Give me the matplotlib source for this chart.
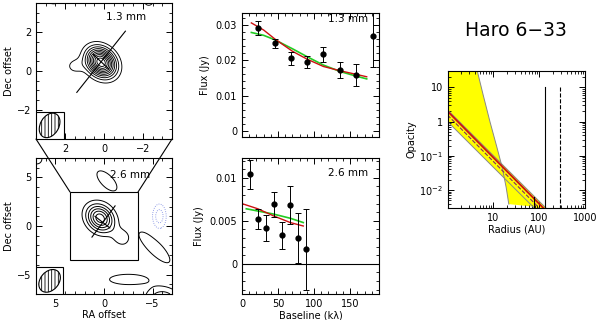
import matplotlib
matplotlib.use('Agg')
import matplotlib.pyplot as plt
import numpy as np
from matplotlib.patches import Ellipse, Rectangle, ConnectionPatch
from matplotlib.ticker import MultipleLocator

plt.rcParams['font.family'] = ['DejaVu Sans']
plt.rcParams['font.size'] = 7
plt.rcParams['hatch.linewidth'] = 0.6

# --- maps: source components (x, y, amp, sig_major, sig_minor, pa in deg) ---
map13_comps = [(0.15, 0.45, 1.0, 0.55, 0.44, 45),
               (1.5, 0.25, 0.13, 0.35, 0.3, 0),
               (2.6, 3.75, 0.16, 0.4, 0.3, 0),
               (-2.3, 3.6, 0.13, 0.3, 0.3, 0)]
map13_levels = [0.1, 0.19, 0.28, 0.37, 0.46, 0.55, 0.64, 0.73, 0.82, 0.91]

map26_comps = [(0.4, 0.8, 1.0, 1.05, 0.85, 45),
               (-1.8, -1.2, 0.25, 0.7, 0.6, 45),
               (-0.3, 4.65, 0.22, 1.5, 0.7, 45),
               (-5.2, -2.2, 0.28, 1.9, 0.6, 45),
               (-6.0, -7.5, 0.45, 1.2, 0.8, 0),
               (-2.5, -5.5, 0.22, 2.2, 0.6, 0),
               (6.9, 6.9, 0.25, 0.5, 0.5, 0),
               (-5.7, 1.0, -0.4, 0.9, 0.5, 90)]
map26_levels = [0.15, 0.3, 0.45, 0.6, 0.75, 0.9]
map26_neg = [-0.3, -0.15]

# --- visibility amplitudes ---
uv13 = [22.7, 45.8, 68, 90.7, 113, 136, 158, 181.5]
amp13 = [0.0291, 0.0247, 0.0205, 0.0195, 0.0217, 0.0172, 0.0158, 0.0268]
err13 = [0.002, 0.0014, 0.0018, 0.0018, 0.0021, 0.0022, 0.003, 0.0087]
red13_x = [13, 30, 46, 70, 90, 113, 136, 158, 173]
red13_y = [0.0305, 0.0285, 0.0259, 0.0225, 0.0203, 0.0182, 0.0170, 0.0160, 0.0153]
grn13_x = [13, 30, 46, 70, 90, 113, 136, 158, 173]
grn13_y = [0.0278, 0.0270, 0.0257, 0.0232, 0.0210, 0.0186, 0.0168, 0.0155, 0.0147]

uv26 = [11, 21.8, 32.9, 44.4, 56, 66.7, 77.3, 89]
amp26 = [0.0104, 0.0052, 0.0042, 0.0069, 0.0033, 0.0068, 0.0030, 0.0017]
err26 = [0.0017, 0.0012, 0.0015, 0.0015, 0.0016, 0.0022, 0.0029, 0.0047]
red26_x = [0, 22, 43, 67, 85]
red26_y = [0.0070, 0.0064, 0.0056, 0.0048, 0.0044]
grn26_x = [6, 43, 67, 85]
grn26_y = [0.0064, 0.0058, 0.0053, 0.0048]

# --- opacity profiles ---
steep_r = [4.45, 5.96, 8.4, 11.9, 15.5, 19, 21.7]
steep_tau = [30, 6.1, 1.0, 0.18, 0.047, 0.012, 0.0039]
upper_r, upper_tau = [1, 140], [2.2, 0.003]
best_r, best_tau = [1, 123], [2.0, 0.003]
dash_r, dash_tau = [1, 100], [1.55, 0.003]
lower_r, lower_tau = [1, 78], [1.0, 0.003]
r_out_solid, r_out_dash, r_short = 135, 290, 76


def field(X, Y, comps):
    Z = np.zeros_like(X)
    for x0, y0, a, sa, sb, pa in comps:
        t = np.radians(pa)
        u = (X - x0) * np.cos(t) + (Y - y0) * np.sin(t)
        v = -(X - x0) * np.sin(t) + (Y - y0) * np.cos(t)
        Z += a * np.exp(-0.5 * (u**2 / sa**2 + v**2 / sb**2))
    return Z


def style(ax):
    ax.tick_params(which='both', direction='in', top=True, right=True, labelsize=7)
    ax.tick_params(which='major', length=4, width=0.7)
    ax.tick_params(which='minor', length=2, width=0.6)
    for s in ax.spines.values():
        s.set_linewidth(0.8)


fig = plt.figure(figsize=(6, 3.2), dpi=100)

# top-left map
ax1 = fig.add_axes([0.06, 0.5656, 0.2267, 0.425])
g = np.linspace(-3.5, 3.5, 300)
X, Y = np.meshgrid(g, g)
ax1.contour(X, Y, field(X, Y, map13_comps), levels=map13_levels, colors='k', linewidths=0.65)
ax1.plot([1.4, -1.1], [-1.1, 2.05], color='k', lw=0.8)
ax1.plot([0.55, -0.25], [0.85, 0.1], color='k', lw=0.8)
ax1.add_patch(Rectangle((2.05, -3.5), 1.45, 1.4, fc='white', ec='k', lw=0.8, zorder=3))
ax1.add_patch(Ellipse((2.8, -2.8), 1.35, 0.95, angle=120, fc='white', ec='k',
                      hatch='|||||', lw=0.8, zorder=4))
ax1.set_xlim(3.5, -3.5)
ax1.set_ylim(-3.5, 3.5)
ax1.set_xticks([2, 0, -2])
ax1.set_yticks([-2, 0, 2])
ax1.xaxis.set_minor_locator(MultipleLocator(0.5))
ax1.yaxis.set_minor_locator(MultipleLocator(0.5))
ax1.set_ylabel('Dec offset', labelpad=2)
ax1.text(0.81, 0.9, '1.3 mm', transform=ax1.transAxes, ha='right', va='center', fontsize=7.5)
style(ax1)

# bottom-left map
ax2 = fig.add_axes([0.06, 0.08125, 0.2267, 0.425])
g = np.linspace(-7, 7, 300)
X, Y = np.meshgrid(g, g)
Z = field(X, Y, map26_comps)
ax2.contour(X, Y, Z, levels=map26_levels, colors='k', linewidths=0.7)
ax2.contour(X, Y, Z, levels=map26_neg, colors='#7080e0', linewidths=0.6, linestyles=':')
ax2.plot([1.24, -1.14], [-1.14, 2.07], color='k', lw=0.8)
ax2.plot([0.93, -0.6], [1.0, -0.2], color='k', lw=0.8)
ax2.add_patch(Rectangle((-3.5, -3.5), 7, 7, fill=False, ec='k', lw=0.8))
ax2.add_patch(Rectangle((4.25, -7), 2.75, 2.75, fc='white', ec='k', lw=0.8, zorder=3))
ax2.add_patch(Ellipse((5.6, -5.65), 2.6, 1.9, angle=130, fc='white', ec='k',
                      hatch='|||||', lw=0.8, zorder=4))
ax2.set_xlim(7, -7)
ax2.set_ylim(-7, 7)
ax2.set_xticks([5, 0, -5])
ax2.set_yticks([-5, 0, 5])
ax2.xaxis.set_minor_locator(MultipleLocator(1))
ax2.yaxis.set_minor_locator(MultipleLocator(1))
ax2.set_ylabel('Dec offset', labelpad=2)
ax2.set_xlabel('RA offset', labelpad=1)
ax2.text(0.84, 0.875, '2.6 mm', transform=ax2.transAxes, ha='right', va='center', fontsize=7.5)
style(ax2)

for xa in (3.5, -3.5):
    fig.add_artist(ConnectionPatch(xyA=(xa, -3.5), coordsA=ax1.transData,
                                   xyB=(xa, 3.5), coordsB=ax2.transData, color='k', lw=0.8))

# top-middle visibilities
ax3 = fig.add_axes([0.4033, 0.5719, 0.2283, 0.3875])
ax3.errorbar(uv13, amp13, yerr=err13, fmt='o', color='k', ms=3.5, capsize=2.5,
             elinewidth=0.7, capthick=0.7, zorder=3)
ax3.plot(grn13_x, grn13_y, color='#22cc22', lw=1.2)
ax3.plot(red13_x, red13_y, color='#cc1111', lw=1.0)
ax3.set_xlim(0, 190)
ax3.set_ylim(-0.0017, 0.0333)
ax3.set_xticks([0, 50, 100, 150])
ax3.set_xticklabels([])
ax3.set_yticks([0, 0.01, 0.02, 0.03])
ax3.set_yticklabels(['0', '0.01', '0.02', '0.03'])
ax3.xaxis.set_minor_locator(MultipleLocator(10))
ax3.yaxis.set_minor_locator(MultipleLocator(0.002))
ax3.set_ylabel('Flux (Jy)', labelpad=4)
ax3.text(0.92, 0.955, '1.3 mm', transform=ax3.transAxes, ha='right', va='center', fontsize=7.5)
style(ax3)

# bottom-middle visibilities
ax4 = fig.add_axes([0.4033, 0.08125, 0.2283, 0.425])
ax4.axhline(0, color='k', lw=0.8)
ax4.errorbar(uv26, amp26, yerr=err26, fmt='o', color='k', ms=3.5, capsize=2.5,
             elinewidth=0.7, capthick=0.7, zorder=3)
ax4.plot(grn26_x, grn26_y, color='#22cc22', lw=1.2)
ax4.plot(red26_x, red26_y, color='#cc1111', lw=1.0)
ax4.set_xlim(0, 190)
ax4.set_ylim(-0.0035, 0.0123)
ax4.set_xticks([0, 50, 100, 150])
ax4.set_yticks([0, 0.005, 0.01])
ax4.set_yticklabels(['0', '0.005', '0.01'])
ax4.xaxis.set_minor_locator(MultipleLocator(10))
ax4.yaxis.set_minor_locator(MultipleLocator(0.001))
ax4.set_ylabel('Flux (Jy)', labelpad=4)
ax4.set_xlabel('Baseline (k\u03bb)', labelpad=1)
ax4.text(0.92, 0.89, '2.6 mm', transform=ax4.transAxes, ha='right', va='center', fontsize=7.5)
style(ax4)

# right: opacity profile
ax5 = fig.add_axes([0.746, 0.35, 0.229, 0.428])
ax5.set_xscale('log')
ax5.set_yscale('log')
# yellow envelope: left wedge above the crossing, right wedge below it
left_x = [1] + steep_r[:5] + [lower_r[0]]
left_y = [30] + steep_tau[:5] + [lower_tau[0]]
ax5.fill(left_x, left_y, color='#ffff00', lw=0)
right_x = steep_r[4:] + [upper_r[1], steep_r[4]]
right_y = steep_tau[4:] + [upper_tau[1], steep_tau[4]]
ax5.fill(right_x, right_y, color='#ffff00', lw=0)
ax5.fill(upper_r + lower_r[::-1], upper_tau + lower_tau[::-1], color='#ffff00', lw=0)
ax5.plot(steep_r, steep_tau, color='#888888', lw=0.7)
ax5.plot(upper_r, upper_tau, color='#888888', lw=0.7)
ax5.plot(lower_r, lower_tau, color='#888888', lw=0.7)
ax5.plot(dash_r, dash_tau, color='#803060', lw=0.8, ls='--')
ax5.plot(best_r, best_tau, color='#cc1111', lw=1.3)
ax5.plot([r_out_solid, r_out_solid], [10, 0.003], color='k', lw=0.8)
ax5.plot([r_out_dash, r_out_dash], [10, 0.003], color='k', lw=0.8, ls='--')
ax5.plot([r_short, r_short], [0.0063, 0.003], color='k', lw=0.8)
ax5.set_xlim(1, 1000)
ax5.set_ylim(0.003, 30)
ax5.set_xticks([10, 100, 1000])
ax5.set_xticklabels(['10', '100', '1000'])
ax5.set_yticks([0.01, 0.1, 1, 10])
ax5.set_yticklabels(['$10^{-2}$', '$10^{-1}$', '1', '10'])
ax5.set_ylabel('Opacity', labelpad=2)
ax5.set_xlabel('Radius (AU)', labelpad=1)
style(ax5)

fig.text(0.86, 0.905, 'Haro 6\u221233', ha='center', va='center', fontsize=13.5)

fig.savefig('out.png', dpi=100)
